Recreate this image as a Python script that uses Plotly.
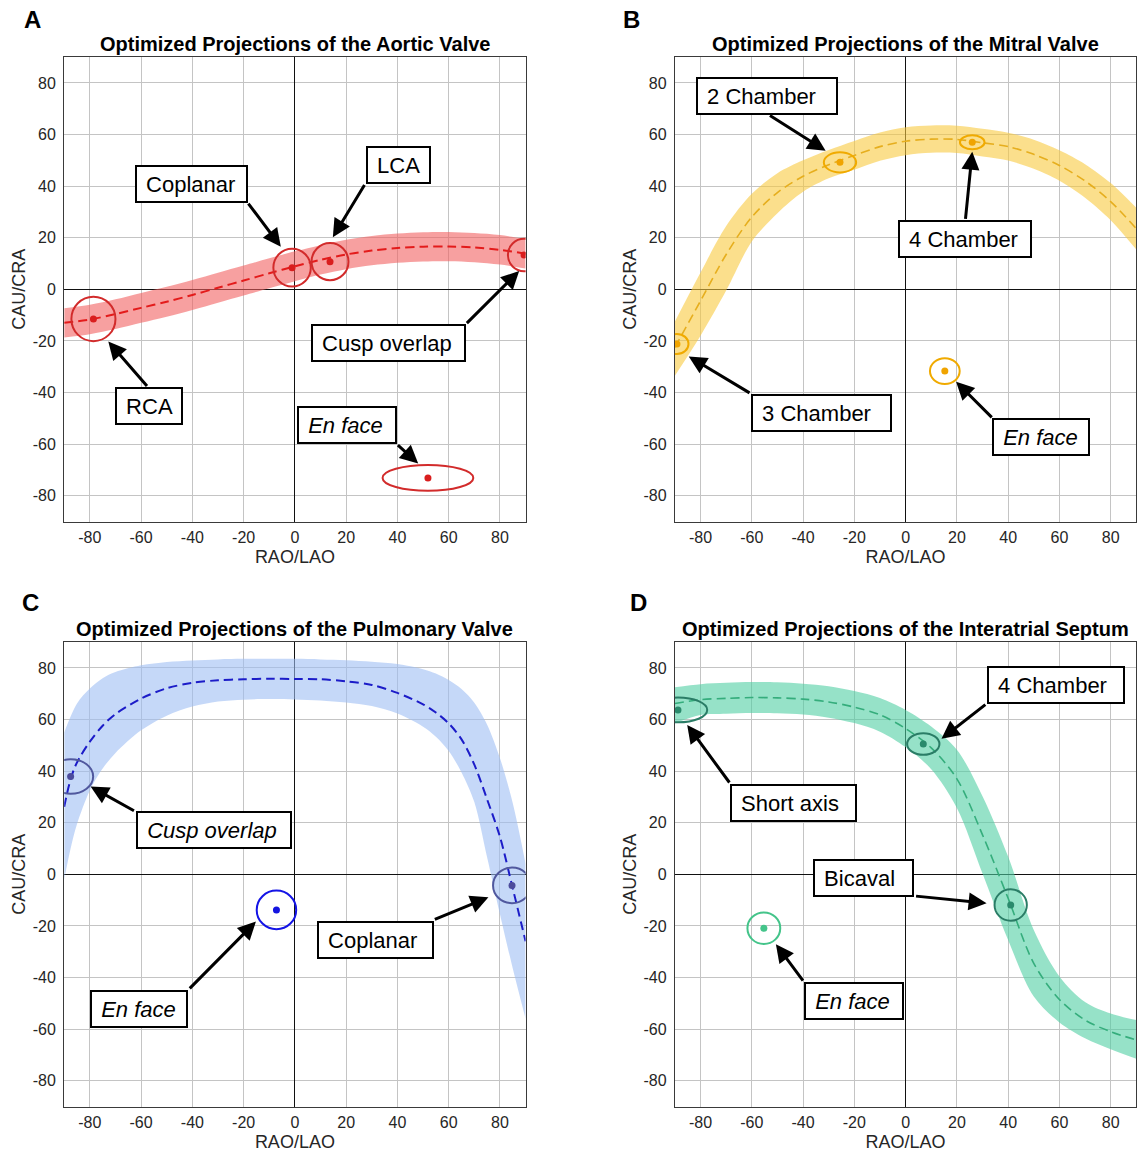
import plotly.graph_objects as go

# ------------------------------------------------------------------ data
TICK_VALUES = [-80, -60, -40, -20, 0, 20, 40, 60, 80]
TICK_TEXT = ["-80", "-60", "-40", "-20", "0", "20", "40", "60", "80"]
AXIS_RANGE = [-90, 90]
X_TITLE = "RAO/LAO"
Y_TITLE = "CAU/CRA"
PANEL_LETTERS = ["A", "B", "C", "D"]
PANEL_TITLES = [
    "Optimized Projections of the Aortic Valve",
    "Optimized Projections of the Mitral Valve",
    "Optimized Projections of the Pulmonary Valve",
    "Optimized Projections of the Interatrial Septum",
]

GRID_X = [-90, -80, -70, -60, -50, -40, -30, -20, -10, 0, 10, 20, 30, 40, 50, 60, 70, 80, 90]

# A - aortic valve
A_center = [-13.0, -11.7, -9.6, -7.2, -4.8, -2.2, 0.6, 3.4, 6.2, 8.9, 11.4, 13.5, 15.0, 16.0, 16.5, 16.6, 16.2, 15.3, 13.8]
A_upper = [-7.3, -6.0, -3.9, -1.4, 1.0, 3.6, 6.4, 9.2, 12.0, 14.7, 17.1, 19.2, 20.7, 21.6, 22.1, 22.2, 21.8, 21.0, 19.5]
A_lower = [-18.7, -17.4, -15.4, -13.0, -10.6, -8.0, -5.2, -2.4, 0.4, 3.1, 5.7, 7.8, 9.3, 10.3, 10.8, 10.9, 10.5, 9.6, 8.1]
A_views = ["RCA", "Coplanar", "LCA", "Cusp overlap", "En face"]
A_view_x = [-78.6, -1.1, 13.7, 89.4, 51.9]
A_view_y = [-11.5, 8.4, 10.7, 13.3, -73.1]
A_view_rx = [8.6, 7.3, 7.2, 6.3, 17.7]
A_view_ry = [8.6, 7.3, 7.2, 6.3, 5.0]

# B - mitral valve
B_center = [-22.5, -4.5, 13.5, 28.0, 37.5, 43.8, 48.3, 51.9, 55.3, 57.4, 58.2, 58.1, 56.8, 55.3, 52.3, 48.0, 42.0, 34.0, 23.5]
B_upper = [-12.5, 6.5, 24.5, 37.0, 45.0, 50.0, 54.0, 57.5, 60.8, 62.8, 63.5, 63.4, 62.2, 60.7, 58.0, 53.9, 48.5, 41.2, 31.6]
B_lower = [-33.5, -18.0, -0.5, 18.5, 29.5, 37.8, 43.0, 46.3, 49.8, 52.0, 52.9, 52.8, 51.5, 49.9, 46.7, 42.1, 35.5, 26.8, 15.4]
B_views = ["3 Chamber", "2 Chamber", "4 Chamber", "En face"]
B_view_x = [-89.2, -25.6, 26.0, 15.3]
B_view_y = [-21.2, 49.2, 57.0, -31.7]
B_view_rx = [4.5, 6.3, 4.8, 5.8]
B_view_ry = [3.9, 3.9, 2.7, 5.0]

# C - pulmonary valve
C_center_x = [-90, -88, -86, -84, -80, -75, -70, -60, -50, -40, -30, -20, -10, 0, 10, 20, 30, 40, 50, 55, 60, 65, 70, 75, 80, 85, 90]
C_center = [26.2, 35.0, 41.2, 45.2, 51.4, 57.6, 62.1, 68.1, 72.1, 74.2, 75.2, 75.6, 75.8, 75.7, 75.6, 74.8, 73.4, 70.3, 65.9, 62.7, 58.5, 52.3, 42.5, 29.0, 14.5, -5.5, -26.0]
C_upper_x = [-90, -85, -80, -75, -70, -60, -50, -40, -30, -20, -10, 0, 10, 20, 30, 40, 50, 55, 60, 65, 70, 75, 80, 85, 90]
C_upper = [55.0, 66.2, 72.0, 76.0, 78.4, 81.0, 82.3, 82.9, 83.3, 83.5, 83.5, 83.5, 83.3, 83.0, 82.4, 81.5, 79.5, 77.8, 75.3, 71.8, 66.5, 58.0, 45.0, 27.5, 4.0]
C_lower_x = [-90, -87.5, -85, -80, -75, -70, -60, -50, -40, -30, -20, -10, 0, 10, 20, 30, 40, 50, 55, 60, 65, 70, 75, 80, 85, 90]
C_lower = [-2.0, 10.0, 19.5, 32.5, 41.0, 47.0, 55.8, 61.5, 65.0, 67.0, 67.7, 67.9, 67.8, 67.4, 66.6, 65.2, 62.3, 57.2, 53.3, 47.8, 39.5, 28.0, 6.5, -15.5, -36.5, -56.0]
C_views = ["Cusp overlap", "En face", "Coplanar"]
C_view_x = [-87.5, -7.2, 84.7]
C_view_y = [37.9, -13.8, -4.3]
C_view_rx = [8.8, 7.7, 7.4]
C_view_ry = [6.7, 7.5, 6.9]

# D - interatrial septum
D_center = [66.2, 67.7, 68.2, 68.5, 68.4, 67.9, 66.8, 64.8, 61.8, 56.5, 49.0, 37.0, 15.3, -9.3, -34.5, -48.5, -56.5, -61.0, -64.2]
D_upper = [72.5, 73.7, 74.2, 74.5, 74.4, 73.9, 72.9, 71.0, 68.3, 63.7, 57.3, 48.3, 30.3, 6.9, -21.6, -39.6, -49.5, -54.0, -56.5]
D_lower = [58.5, 61.7, 62.2, 62.5, 62.4, 61.9, 60.7, 58.6, 55.3, 49.3, 40.7, 25.7, 0.3, -25.5, -47.4, -57.4, -63.5, -67.8, -71.5]
D_views = ["Short axis", "4 Chamber", "Bicaval", "En face"]
D_view_x = [-88.8, 6.9, 41.0, -55.3]
D_view_y = [63.7, 50.5, -11.9, -20.9]
D_view_rx = [11.4, 6.3, 6.3, 6.4]
D_view_ry = [4.8, 4.2, 6.1, 6.1]

# ------------------------------------------------------------------ styles
FONT = "Liberation Sans, Arial, Helvetica, sans-serif"
STYLE = {
    "A": dict(band="rgba(242,97,97,0.6)", dash="#e31b1b",
              ring=["#d22b2b"] * 5, dot=["#d91e1e"] * 5, dashwidth=2),
    "B": dict(band="rgba(248,202,63,0.6)", dash="#e6ae1e",
              ring=["#f0aa00"] * 4, dot=["#f0a400"] * 4, dashwidth=1.6),
    "C": dict(band="rgba(158,190,243,0.6)", dash="#1c1cc8",
              ring=["#50589e", "#1414e6", "#50589e"], dot=["#4c4c9c", "#1414e0", "#4c4c9c"], dashwidth=2),
    "D": dict(band="rgba(80,207,163,0.6)", dash="#35ad7c",
              ring=["#2a7d66", "#2a7d66", "#2a7d66", "#44c48a"], dot=["#2a8a6c", "#2a8a6c", "#2a8a6c", "#44c48a"], dashwidth=1.6),
}

W, H = 1139, 1162
PLOT_LEFT = {"A": 64.2, "B": 674.9, "C": 64.2, "D": 674.9}
PLOT_TOP = {"A": 57.1, "B": 57.1, "C": 642.1, "D": 642.1}
PLOT_W, PLOT_H = 461.4, 464.4
LETTER_POS = {"A": (32.2, 20.0), "B": (631.0, 19.0), "C": (30.7, 602.8), "D": (638.0, 602.8)}

# label boxes: text, box centre (data), outer width px, arrow tail (data), arrow tip (data), italic
LABELS = {
    "A": [
        ("RCA", -56.95, -45.4, 68, -57.2, -38.1, -72.8, -20.2, False),
        ("Coplanar", -40.35, 40.7, 113, -18.6, 33.8, -5.5, 16.5, False),
        ("LCA", 40.35, 48.2, 65, 27.5, 41.0, 14.8, 20.2, False),
        ("Cusp overlap", 36.35, -20.9, 155, 66.5, -13.7, 87.5, 7.1, False),
        ("En face", 20.15, -52.6, 100, 39.6, -59.9, 48.1, -67.5, True),
    ],
    "B": [
        ("2 Chamber", -53.9, 75.0, 142, -53.5, 67.7, -31.2, 53.7, False),
        ("4 Chamber", 23.25, 19.5, 134, 23.3, 26.7, 26.0, 53.3, False),
        ("3 Chamber", -32.85, -47.9, 141, -60.3, -40.5, -84.6, -26.0, False),
        ("En face", 53.0, -57.4, 98, 34.2, -50.2, 19.7, -35.8, True),
    ],
    "C": [
        ("Cusp overlap", -31.75, 17.0, 156, -62.2, 24.3, -79.7, 34.0, True),
        ("En face", -60.65, -52.25, 98, -41.6, -44.8, -15.2, -18.3, True),
        ("Coplanar", 31.25, -25.3, 117, 54.0, -17.7, 75.5, -8.9, False),
    ],
    "D": [
        ("4 Chamber", 58.55, 73.45, 138, 31.7, 66.2, 14.0, 52.5, False),
        ("Short axis", -43.8, 27.7, 127, -68.3, 35.0, -85.2, 57.9, False),
        ("Bicaval", -16.25, -1.55, 101, 3.5, -8.4, 31.6, -11.2, False),
        ("En face", -20.15, -49.1, 100, -39.6, -41.8, -50.6, -27.1, True),
    ],
}

PANELS = {
    "A": dict(cx=GRID_X, cy=A_center, ux=GRID_X, uy=A_upper, lx=GRID_X, ly=A_lower,
              vx=A_view_x, vy=A_view_y, rx=A_view_rx, ry=A_view_ry),
    "B": dict(cx=GRID_X, cy=B_center, ux=GRID_X, uy=B_upper, lx=GRID_X, ly=B_lower,
              vx=B_view_x, vy=B_view_y, rx=B_view_rx, ry=B_view_ry),
    "C": dict(cx=C_center_x, cy=C_center, ux=C_upper_x, uy=C_upper, lx=C_lower_x, ly=C_lower,
              vx=C_view_x, vy=C_view_y, rx=C_view_rx, ry=C_view_ry),
    "D": dict(cx=GRID_X, cy=D_center, ux=GRID_X, uy=D_upper, lx=GRID_X, ly=D_lower,
              vx=D_view_x, vy=D_view_y, rx=D_view_rx, ry=D_view_ry),
}

fig = go.Figure()
annotations = []
layout_axes = {}

for i, key in enumerate(PANEL_LETTERS):
    p = PANELS[key]
    st = STYLE[key]
    suffix = "" if i == 0 else str(i + 1)
    xr, yr = "x" + suffix, "y" + suffix

    fig.add_trace(go.Scatter(x=p["lx"], y=p["ly"], mode="lines",
                             line=dict(width=0, shape="spline", smoothing=0.9),
                             xaxis=xr, yaxis=yr, hoverinfo="skip", showlegend=False))
    fig.add_trace(go.Scatter(x=p["ux"], y=p["uy"], mode="lines", fill="tonexty",
                             fillcolor=st["band"],
                             line=dict(width=0, shape="spline", smoothing=0.9),
                             xaxis=xr, yaxis=yr, hoverinfo="skip", showlegend=False))
    fig.add_trace(go.Scatter(x=p["cx"], y=p["cy"], mode="lines",
                             line=dict(color=st["dash"], width=st["dashwidth"], dash="9px,5px",
                                       shape="spline", smoothing=0.9),
                             xaxis=xr, yaxis=yr, hoverinfo="skip", showlegend=False))
    for vx, vy, rx, ry, col in zip(p["vx"], p["vy"], p["rx"], p["ry"], st["ring"]):
        fig.add_shape(type="circle", xref=xr, yref=yr,
                      x0=vx - rx, x1=vx + rx, y0=vy - ry, y1=vy + ry,
                      line=dict(color=col, width=2))
    fig.add_trace(go.Scatter(x=p["vx"], y=p["vy"], mode="markers",
                             marker=dict(size=7, color=st["dot"]),
                             xaxis=xr, yaxis=yr, hoverinfo="skip", showlegend=False))

    # domains
    left, top = PLOT_LEFT[key], PLOT_TOP[key]
    xdom = [left / W, (left + PLOT_W) / W]
    ydom = [1 - (top + PLOT_H) / H, 1 - top / H]
    common = dict(range=AXIS_RANGE, tickvals=TICK_VALUES, ticktext=TICK_TEXT,
                  showgrid=True, gridcolor="#c4c4c4",
                  gridwidth=1, zeroline=True, zerolinecolor="#111111", zerolinewidth=1.3,
                  showline=True, mirror=True, linecolor="#3a3a3a", linewidth=1.2,
                  ticks="", tickfont=dict(family=FONT, size=16, color="#262626"),
                  fixedrange=True)
    layout_axes["xaxis" + suffix] = dict(common, domain=xdom, anchor=yr,
                                         title=dict(text=X_TITLE, standoff=5,
                                                    font=dict(family=FONT, size=18, color="#262626")),
                                         ticklabelstandoff=1)
    layout_axes["yaxis" + suffix] = dict(common, domain=ydom, anchor=xr,
                                         title=dict(text=Y_TITLE, standoff=2,
                                                    font=dict(family=FONT, size=18, color="#262626")),
                                         ticklabelstandoff=4)

    # title and panel letter
    annotations.append(dict(text="<b>" + PANEL_TITLES[i] + "</b>", xref="paper", yref="paper",
                            x=(left + PLOT_W / 2) / W, y=1 - (top - 13) / H,
                            xanchor="center", yanchor="middle", showarrow=False,
                            font=dict(family=FONT, size=20, color="black")))
    lx, ly = LETTER_POS[key]
    annotations.append(dict(text="<b>" + key + "</b>", xref="paper", yref="paper",
                            x=lx / W, y=1 - ly / H, xanchor="center", yanchor="middle",
                            showarrow=False, font=dict(family=FONT, size=24, color="black")))

    # arrows first, then boxes on top
    for (txt, bx, by, bw, tx, ty, hx, hy, ital) in LABELS[key]:
        annotations.append(dict(text="", x=hx, y=hy, ax=tx, ay=ty, xref=xr, yref=yr,
                                axref=xr, ayref=yr, showarrow=True, arrowhead=2,
                                arrowsize=1.2, arrowwidth=3, arrowcolor="black", standoff=0))
    for (txt, bx, by, bw, tx, ty, hx, hy, ital) in LABELS[key]:
        label = "<i>" + txt + "</i>" if ital else txt
        annotations.append(dict(text="\u00a0" + label, x=bx, y=by, xref=xr, yref=yr,
                                showarrow=False, xanchor="center", yanchor="middle",
                                align="left", width=bw - 10, height=28,
                                bgcolor="white", bordercolor="black", borderwidth=2, borderpad=3,
                                font=dict(family=FONT, size=22, color="black")))

fig.update_layout(
    width=W, height=H, margin=dict(l=0, r=0, t=0, b=0),
    paper_bgcolor="white", plot_bgcolor="white", showlegend=False,
    annotations=annotations, font=dict(family=FONT),
    **layout_axes,
)

fig.write_html("out.html")
